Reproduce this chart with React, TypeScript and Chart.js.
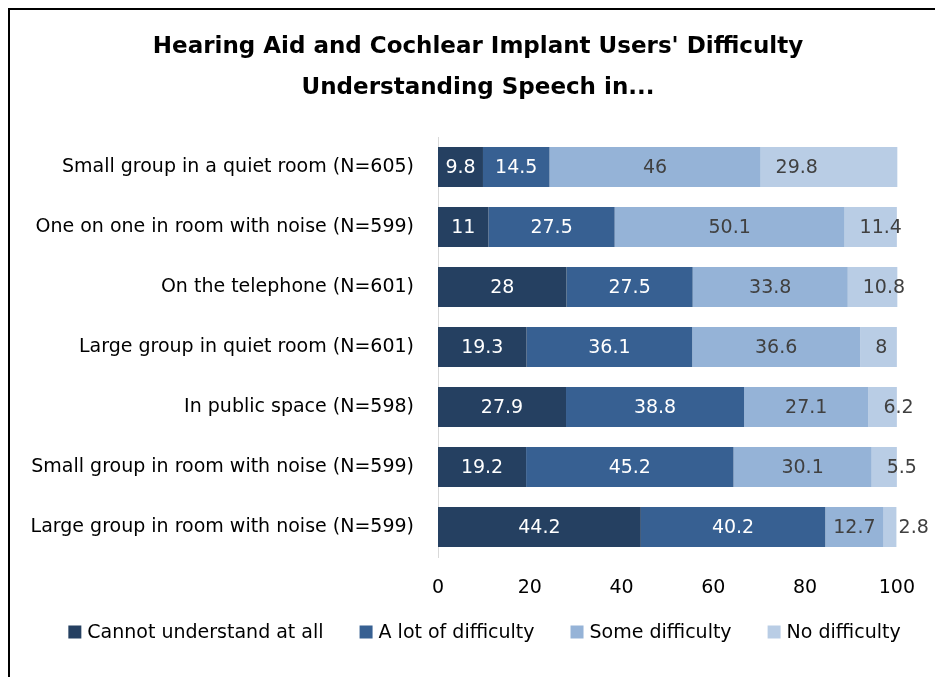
import React, { useEffect, useRef } from 'react';
import { Chart, registerables } from 'chart.js';
Chart.register(...registerables);

const titleLines = ["Hearing Aid and Cochlear Implant Users' Difficulty", 'Understanding Speech in...'];
const categories = [
  'Small group in a quiet room (N=605)',
  'One on one in room with noise (N=599)',
  'On the telephone (N=601)',
  'Large group in quiet room (N=601)',
  'In public space (N=598)',
  'Small group in room with noise (N=599)',
  'Large group in room with noise (N=599)',
];
const seriesNames = ['Cannot understand at all', 'A lot of difficulty', 'Some difficulty', 'No difficulty'];
const cannotUnderstand = [9.8, 11, 28, 19.3, 27.9, 19.2, 44.2];
const aLotOfDifficulty = [14.5, 27.5, 27.5, 36.1, 38.8, 45.2, 40.2];
const someDifficulty = [46, 50.1, 33.8, 36.6, 27.1, 30.1, 12.7];
const noDifficulty = [29.8, 11.4, 10.8, 8, 6.2, 5.5, 2.8];
const xTicks = [0, 20, 40, 60, 80, 100];

const colors = ['#254061', '#376092', '#95B3D7', '#B9CDE5'];
const labelColors = ['#FFFFFF', '#FFFFFF', '#404040', '#404040'];
const FONT = '"DejaVu Sans"';
const FS = 19;

const borderPlugin = {
  id: 'frame',
  beforeDraw(chart: any) {
    const ctx = chart.ctx;
    ctx.save();
    ctx.strokeStyle = '#000';
    ctx.lineWidth = 2;
    ctx.beginPath();
    ctx.moveTo(9, chart.height);
    ctx.lineTo(9, 9);
    ctx.lineTo(chart.width, 9);
    ctx.stroke();
    ctx.restore();
  },
};

// Two-line bold title, centred as in the reference
const titlePlugin = {
  id: 'customTitle',
  afterDraw(chart: any) {
    const ctx = chart.ctx;
    ctx.save();
    ctx.font = `bold 23px ${FONT}`;
    ctx.fillStyle = '#000';
    ctx.textAlign = 'center';
    ctx.textBaseline = 'middle';
    titleLines.forEach((line, i) => {
      ctx.fillText(line, 478, 47 + i * 41);
    });
    ctx.restore();
  },
};

const labelPlugin = {
  id: 'segLabels',
  afterDatasetsDraw(chart: any) {
    const ctx = chart.ctx;
    ctx.save();
    ctx.font = `${FS}px ${FONT}`;
    ctx.textBaseline = 'middle';
    chart.data.datasets.forEach((ds: any, di: number) => {
      const meta = chart.getDatasetMeta(di);
      meta.data.forEach((el: any, i: number) => {
        const text = String(ds.data[i]);
        ctx.fillStyle = labelColors[di];
        const start = Math.min(el.x, el.base);
        const end = Math.max(el.x, el.base);
        if (di === chart.data.datasets.length - 1) {
          ctx.textAlign = 'left';
          ctx.fillText(text, start + 15, el.y + 1);
        } else {
          ctx.textAlign = 'center';
          ctx.fillText(text, (start + end) / 2, el.y + 1);
        }
      });
    });
    ctx.restore();
  },
};

// Legend drawn below the axis, centred like the reference
const legendPlugin = {
  id: 'customLegend',
  afterDraw(chart: any) {
    const ctx = chart.ctx;
    ctx.save();
    ctx.font = `${FS}px ${FONT}`;
    ctx.textBaseline = 'middle';
    ctx.textAlign = 'left';
    const box = 13;
    const textGap = 6;
    const itemGap = 36;
    const items = chart.data.datasets.map((ds: any) => ({
      label: ds.label,
      color: ds.backgroundColor,
      w: box + textGap + ctx.measureText(ds.label).width,
    }));
    const total = items.reduce((s: number, it: any) => s + it.w, 0) + itemGap * (items.length - 1);
    const cx = 484.5;
    const cy = 632;
    let x = cx - total / 2;
    items.forEach((it: any) => {
      ctx.fillStyle = it.color;
      ctx.fillRect(x, cy - box / 2, box, box);
      ctx.fillStyle = '#000';
      ctx.fillText(it.label, x + box + textGap, cy + 1);
      x += it.w + itemGap;
    });
    ctx.restore();
  },
};

export default function App() {
  const ref = useRef<HTMLCanvasElement>(null);
  useEffect(() => {
    if (!ref.current) return;
    const series = [cannotUnderstand, aLotOfDifficulty, someDifficulty, noDifficulty];
    const chart = new Chart(ref.current, {
      type: 'bar',
      data: {
        labels: categories,
        datasets: series.map((d, i) => ({
          label: seriesNames[i],
          data: d,
          backgroundColor: colors[i],
          borderWidth: 0,
          barPercentage: 0.667,
          categoryPercentage: 1,
          clip: false as any,
        })),
      },
      options: {
        indexAxis: 'y',
        responsive: false,
        animation: false,
        layout: { padding: { top: 137, left: 0, right: 34, bottom: 77.2 } },
        scales: {
          x: {
            stacked: true,
            min: 0,
            max: 100,
            afterBuildTicks: (axis: any) => {
              axis.ticks = xTicks.map((v) => ({ value: v }));
            },
            afterFit: (axis: any) => {
              axis.height = 42.8;
            },
            grid: { display: false, drawTicks: false },
            border: { display: false },
            ticks: { color: '#000', font: { family: FONT, size: FS }, padding: 20 },
          },
          y: {
            stacked: true,
            afterFit: (axis: any) => {
              axis.width = 438;
            },
            grid: { display: false, drawTicks: false },
            border: { display: true, color: '#D9D9D9', width: 1 },
            ticks: { color: '#000', font: { family: FONT, size: FS }, padding: 24 },
          },
        },
        plugins: {
          title: { display: false },
          legend: { display: false },
          tooltip: { enabled: false },
        },
      },
      plugins: [borderPlugin, titlePlugin, labelPlugin, legendPlugin],
    });
    return () => chart.destroy();
  }, []);
  return (
    <div style={{ position: 'fixed', left: 0, top: 0, width: 935, height: 677, background: '#fff' }}>
      <canvas ref={ref} width={935} height={677} />
    </div>
  );
}
